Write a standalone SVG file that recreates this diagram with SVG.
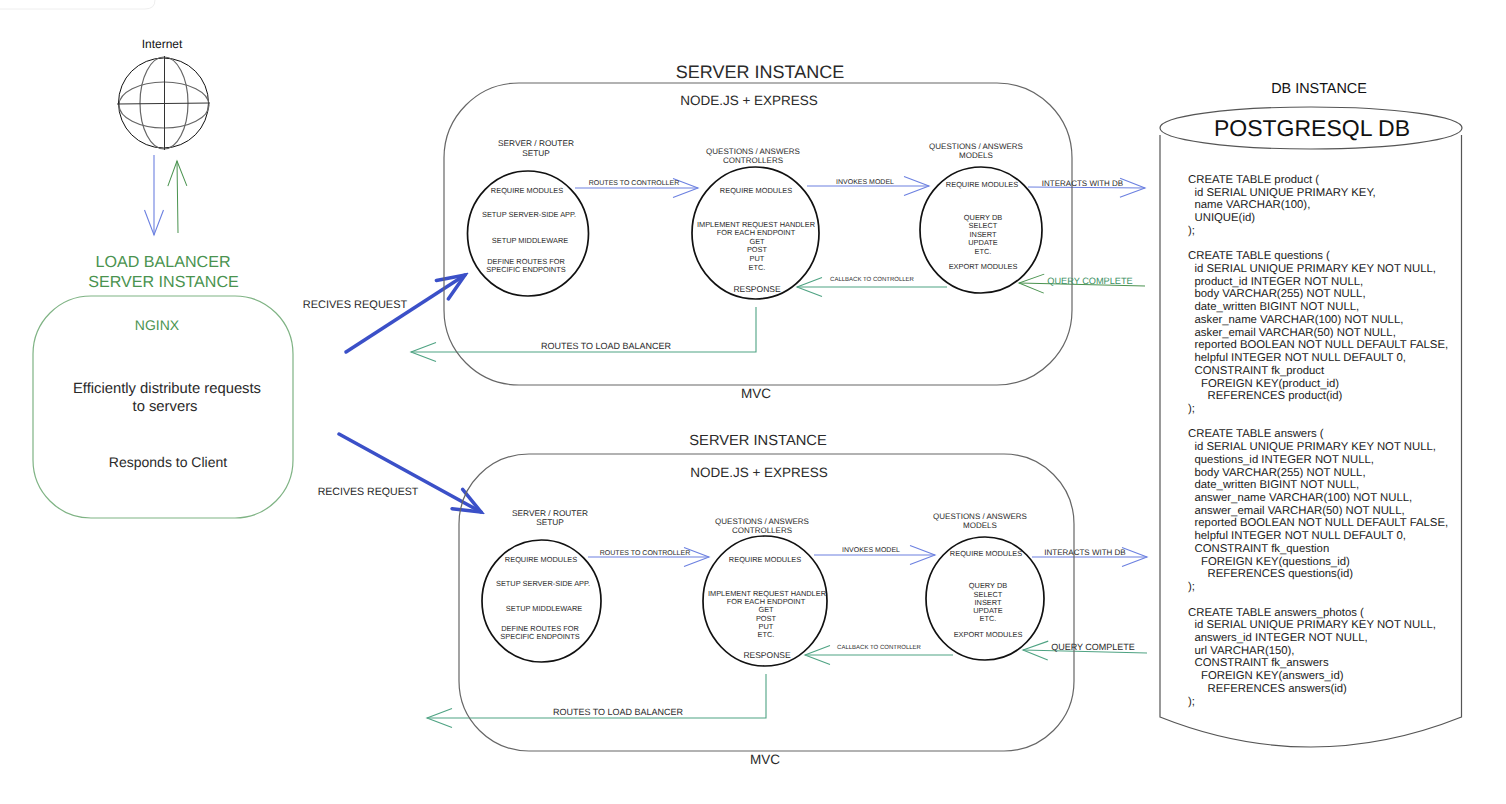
<svg xmlns="http://www.w3.org/2000/svg" width="1506" height="804" viewBox="0 0 1506 804">
<style>
text{font-family:"Liberation Sans",Arial,sans-serif;fill:#2a2a2a;text-anchor:middle;text-rendering:geometricPrecision}
.s6{font-size:6px}.s7{font-size:7px}.s74{font-size:7.400px}.s8{font-size:8px}.s82{font-size:8.300px}.s85{font-size:8.500px}.s9{font-size:9px}.s92{font-size:9.200px}.s10{font-size:10.600px}.s11{font-size:11px}
.sub{font-size:13.500px}
.gt{fill:#4a934f}
.tl{fill:#3b9063}
.sql{font-size:11.350px;text-anchor:start;fill:#1a1a1a}
.box{fill:none;stroke:#666;stroke-width:1.2}
.lb{fill:none;stroke:#7fb384;stroke-width:1.2}
.circ{fill:none;stroke:#111;stroke-width:1.700}
.db{fill:none;stroke:#555;stroke-width:1.2}
.gl{fill:none;stroke:#666;stroke-width:1.2}
.c{fill:none}
.b{stroke:#6c80e0;stroke-width:1.1;marker-end:url(#hb)}
.g{stroke:#4fa383;stroke-width:1.1;marker-end:url(#hg)}
.g2{stroke:#4a934f;stroke-width:1;marker-end:url(#hg2)}
.t{stroke:#3b50c8;stroke-width:3.500;stroke-linecap:round;marker-end:url(#ht)}
</style>
<defs>
<marker id="hb" markerUnits="userSpaceOnUse" markerWidth="30" markerHeight="24" viewBox="-27 -12 30 24" refX="0" refY="0" orient="auto"><path d="M-25,-9.5L0,0L-25,9.5" fill="none" stroke="#6c80e0" stroke-width="1.1"/></marker>
<marker id="hg" markerUnits="userSpaceOnUse" markerWidth="30" markerHeight="24" viewBox="-27 -12 30 24" refX="0" refY="0" orient="auto"><path d="M-25,-9.5L0,0L-25,9.5" fill="none" stroke="#4fa383" stroke-width="1.1"/></marker>
<marker id="hg2" markerUnits="userSpaceOnUse" markerWidth="30" markerHeight="24" viewBox="-27 -12 30 24" refX="0" refY="0" orient="auto"><path d="M-25,-9.5L0,0L-25,9.5" fill="none" stroke="#4a934f" stroke-width="1"/></marker>
<marker id="ht" markerUnits="userSpaceOnUse" markerWidth="36" markerHeight="32" viewBox="-32 -16 36 32" refX="0" refY="0" orient="auto"><path d="M-27,-11L0,0L-27,11" fill="none" stroke="#3b50c8" stroke-width="3.500" stroke-linecap="round"/></marker>
</defs>
<rect width="1506" height="804" fill="#fff"/>
<path d="M0,9H145Q155,9 155,0" fill="none" stroke="#eee" stroke-width="1"/>

<g id="connectors">
<path class="c b" d="M154,155V235"/>
<path class="c g2" d="M178,233L177,161"/>
<path class="c t" d="M346,352L465,275"/>
<path class="c t" d="M339,434L481,512"/>
<path class="c b" d="M575,188H698"/>
<path class="c b" d="M807,186H929"/>
<path class="c b" d="M1028,187L1145,188"/>
<path class="c g2" d="M1145,286L1019,283"/>
<path class="c g" d="M947,287H797"/>
<path class="c g" d="M756,307V352H411"/>
<path class="c b" d="M588,557H709"/>
<path class="c b" d="M814,555H935"/>
<path class="c b" d="M1032,557H1147"/>
<path class="c g" d="M1147,653L1023,650"/>
<path class="c g" d="M953,655H805"/>
<path class="c g" d="M766,674V718H427"/>
</g>

<g id="internet">
<text x="162" y="48" style="font-size:12px;fill:#111">Internet</text>
<circle cx="163.500" cy="103" r="45" fill="none" stroke="#111" stroke-width="1"/>
<ellipse class="gl" cx="164" cy="103" rx="24" ry="46"/>
<ellipse class="gl" cx="164" cy="105" rx="45" ry="23"/>
<path d="M164.500,56V150M117,104L210,103" fill="none" stroke="#333" stroke-width="1"/>
</g>

<g id="load-balancer">
<text class="gt" x="163" y="267" style="font-size:16.100px">LOAD BALANCER</text>
<text class="gt" x="163.500" y="287" style="font-size:16.100px">SERVER INSTANCE</text>
<rect class="lb" x="33" y="296" width="260" height="222" rx="58" ry="58"/>
<text class="gt" x="157" y="330" style="font-size:14px">NGINX</text>
<text x="167" y="393" style="font-size:14.800px">Efficiently distribute requests</text>
<text x="165" y="411" style="font-size:14.800px">to servers</text>
<text x="168" y="467" style="font-size:14px">Responds to Client</text>
</g>

<g id="server-instance-1">
<text x="760" y="78" style="font-size:18px">SERVER INSTANCE</text>
<rect class="box" x="444" y="83" width="628" height="302" rx="75" ry="75"/>
<text class="sub" x="749" y="105">NODE.JS + EXPRESS</text>
<text class="sub" x="756" y="398">MVC</text>
</g>

<g id="router-1">
<text class="s82" x="536" y="146">SERVER / ROUTER</text>
<text class="s82" x="536" y="156">SETUP</text>
<ellipse class="circ" cx="528" cy="233.500" rx="60.500" ry="62.500"/>
<text class="s74" x="527" y="193">REQUIRE MODULES</text>
<text class="s74" x="529" y="217">SETUP SERVER-SIDE APP.</text>
<text class="s74" x="530" y="243">SETUP MIDDLEWARE</text>
<text class="s74" x="526" y="264">DEFINE ROUTES FOR</text>
<text class="s74" x="526" y="272">SPECIFIC ENDPOINTS</text>
</g>

<g id="controllers-1">
<text class="s8" x="753" y="154">QUESTIONS / ANSWERS</text>
<text class="s8" x="753" y="163">CONTROLLERS</text>
<ellipse class="circ" cx="755.500" cy="233" rx="63.500" ry="66"/>
<text class="s74" x="756" y="193">REQUIRE MODULES</text>
<text class="s74" x="756" y="227">IMPLEMENT REQUEST HANDLER</text>
<text class="s74" x="756" y="235">FOR EACH ENDPOINT</text>
<text class="s74" x="757" y="244">GET</text>
<text class="s74" x="757" y="252">POST</text>
<text class="s74" x="757" y="261">PUT</text>
<text class="s74" x="757" y="270">ETC.</text>
<text class="s85" x="757" y="292">RESPONSE</text>
</g>

<g id="models-1">
<text class="s8" x="976" y="149">QUESTIONS / ANSWERS</text>
<text class="s8" x="976" y="158">MODELS</text>
<ellipse class="circ" cx="981" cy="230" rx="61" ry="63"/>
<text class="s74" x="982" y="187">REQUIRE MODULES</text>
<text class="s74" x="983" y="220">QUERY DB</text>
<text class="s74" x="983" y="228">SELECT</text>
<text class="s74" x="983" y="237">INSERT</text>
<text class="s74" x="983" y="245">UPDATE</text>
<text class="s74" x="983" y="254">ETC.</text>
<text class="s74" x="983" y="269">EXPORT MODULES</text>
</g>

<g id="server-instance-2">
<text x="758" y="445" style="font-size:14.700px">SERVER INSTANCE</text>
<rect class="box" x="459" y="454" width="615" height="297" rx="70" ry="70"/>
<text class="sub" x="759" y="477">NODE.JS + EXPRESS</text>
<text class="sub" x="765" y="764">MVC</text>
</g>

<g id="router-2">
<text class="s82" x="550" y="516">SERVER / ROUTER</text>
<text class="s82" x="550" y="525">SETUP</text>
<ellipse class="circ" cx="541.500" cy="601" rx="59.500" ry="61"/>
<text class="s74" x="541" y="562">REQUIRE MODULES</text>
<text class="s74" x="543" y="586">SETUP SERVER-SIDE APP.</text>
<text class="s74" x="544" y="611">SETUP MIDDLEWARE</text>
<text class="s74" x="540" y="631">DEFINE ROUTES FOR</text>
<text class="s74" x="540" y="639">SPECIFIC ENDPOINTS</text>
</g>

<g id="controllers-2">
<text class="s8" x="762" y="524">QUESTIONS / ANSWERS</text>
<text class="s8" x="762" y="533">CONTROLLERS</text>
<ellipse class="circ" cx="765" cy="601" rx="62" ry="65"/>
<text class="s74" x="765" y="562">REQUIRE MODULES</text>
<text class="s74" x="767" y="596">IMPLEMENT REQUEST HANDLER</text>
<text class="s74" x="766" y="604">FOR EACH ENDPOINT</text>
<text class="s74" x="766" y="612">GET</text>
<text class="s74" x="766" y="621">POST</text>
<text class="s74" x="766" y="629">PUT</text>
<text class="s74" x="766" y="637">ETC.</text>
<text class="s85" x="767" y="658">RESPONSE</text>
</g>

<g id="models-2">
<text class="s8" x="980" y="519">QUESTIONS / ANSWERS</text>
<text class="s8" x="980" y="528">MODELS</text>
<ellipse class="circ" cx="985" cy="598.500" rx="59" ry="61.500"/>
<text class="s74" x="986" y="556">REQUIRE MODULES</text>
<text class="s74" x="988" y="588">QUERY DB</text>
<text class="s74" x="988" y="597">SELECT</text>
<text class="s74" x="988" y="605">INSERT</text>
<text class="s74" x="988" y="613">UPDATE</text>
<text class="s74" x="988" y="621">ETC.</text>
<text class="s74" x="988" y="637">EXPORT MODULES</text>
</g>

<g id="connector-labels">
<text class="s11" x="355" y="308">RECIVES REQUEST</text>
<text class="s10" x="368" y="495">RECIVES REQUEST</text>
<text class="s7" x="634" y="185">ROUTES TO CONTROLLER</text>
<text class="s7" x="865" y="184">INVOKES MODEL</text>
<text class="s8" x="1082.500" y="186">INTERACTS WITH DB</text>
<text class="s92 tl" x="1090" y="284">QUERY COMPLETE</text>
<text class="s6" x="872" y="281">CALLBACK TO CONTROLLER</text>
<text class="s9" x="606" y="349">ROUTES TO LOAD BALANCER</text>
<text class="s7" x="645" y="555">ROUTES TO CONTROLLER</text>
<text class="s7" x="871" y="552">INVOKES MODEL</text>
<text class="s8" x="1085" y="555">INTERACTS WITH DB</text>
<text class="s9" x="1093" y="650">QUERY COMPLETE</text>
<text class="s6" x="879" y="649">CALLBACK TO CONTROLLER</text>
<text class="s9" x="618" y="715">ROUTES TO LOAD BALANCER</text>
</g>

<g id="db-instance">
<text x="1319" y="93" style="font-size:14.400px;fill:#111">DB INSTANCE</text>
<ellipse class="db" cx="1311" cy="128" rx="151" ry="21"/>
<path class="db" d="M1160,135V717Q1311,777 1461.500,717V135"/>
<text x="1312" y="136" style="font-size:23px;fill:#111">POSTGRESQL DB</text>
<text class="sql" y="183">
<tspan x="1188">CREATE TABLE product (</tspan>
<tspan x="1194.500" dy="12.720">id SERIAL UNIQUE PRIMARY KEY,</tspan>
<tspan x="1194.500" dy="12.720">name VARCHAR(100),</tspan>
<tspan x="1194.500" dy="12.720">UNIQUE(id)</tspan>
<tspan x="1188" dy="12.720">);</tspan>
</text>
<text class="sql" y="259.300">
<tspan x="1188">CREATE TABLE questions (</tspan>
<tspan x="1194.500" dy="12.720">id SERIAL UNIQUE PRIMARY KEY NOT NULL,</tspan>
<tspan x="1194.500" dy="12.720">product_id INTEGER NOT NULL,</tspan>
<tspan x="1194.500" dy="12.720">body VARCHAR(255) NOT NULL,</tspan>
<tspan x="1194.500" dy="12.720">date_written BIGINT NOT NULL,</tspan>
<tspan x="1194.500" dy="12.720">asker_name VARCHAR(100) NOT NULL,</tspan>
<tspan x="1194.500" dy="12.720">asker_email VARCHAR(50) NOT NULL,</tspan>
<tspan x="1194.500" dy="12.720">reported BOOLEAN NOT NULL DEFAULT FALSE,</tspan>
<tspan x="1194.500" dy="12.720">helpful INTEGER NOT NULL DEFAULT 0,</tspan>
<tspan x="1194.500" dy="12.720">CONSTRAINT fk_product</tspan>
<tspan x="1201" dy="12.720">FOREIGN KEY(product_id)</tspan>
<tspan x="1207.500" dy="12.720">REFERENCES product(id)</tspan>
<tspan x="1188" dy="12.720">);</tspan>
</text>
<text class="sql" y="437.400">
<tspan x="1188">CREATE TABLE answers (</tspan>
<tspan x="1194.500" dy="12.720">id SERIAL UNIQUE PRIMARY KEY NOT NULL,</tspan>
<tspan x="1194.500" dy="12.720">questions_id INTEGER NOT NULL,</tspan>
<tspan x="1194.500" dy="12.720">body VARCHAR(255) NOT NULL,</tspan>
<tspan x="1194.500" dy="12.720">date_written BIGINT NOT NULL,</tspan>
<tspan x="1194.500" dy="12.720">answer_name VARCHAR(100) NOT NULL,</tspan>
<tspan x="1194.500" dy="12.720">answer_email VARCHAR(50) NOT NULL,</tspan>
<tspan x="1194.500" dy="12.720">reported BOOLEAN NOT NULL DEFAULT FALSE,</tspan>
<tspan x="1194.500" dy="12.720">helpful INTEGER NOT NULL DEFAULT 0,</tspan>
<tspan x="1194.500" dy="12.720">CONSTRAINT fk_question</tspan>
<tspan x="1201" dy="12.720">FOREIGN KEY(questions_id)</tspan>
<tspan x="1207.500" dy="12.720">REFERENCES questions(id)</tspan>
<tspan x="1188" dy="12.720">);</tspan>
</text>
<text class="sql" y="615.500">
<tspan x="1188">CREATE TABLE answers_photos (</tspan>
<tspan x="1194.500" dy="12.720">id SERIAL UNIQUE PRIMARY KEY NOT NULL,</tspan>
<tspan x="1194.500" dy="12.720">answers_id INTEGER NOT NULL,</tspan>
<tspan x="1194.500" dy="12.720">url VARCHAR(150),</tspan>
<tspan x="1194.500" dy="12.720">CONSTRAINT fk_answers</tspan>
<tspan x="1201" dy="12.720">FOREIGN KEY(answers_id)</tspan>
<tspan x="1207.500" dy="12.720">REFERENCES answers(id)</tspan>
<tspan x="1188" dy="12.720">);</tspan>
</text>
</g>
</svg>
